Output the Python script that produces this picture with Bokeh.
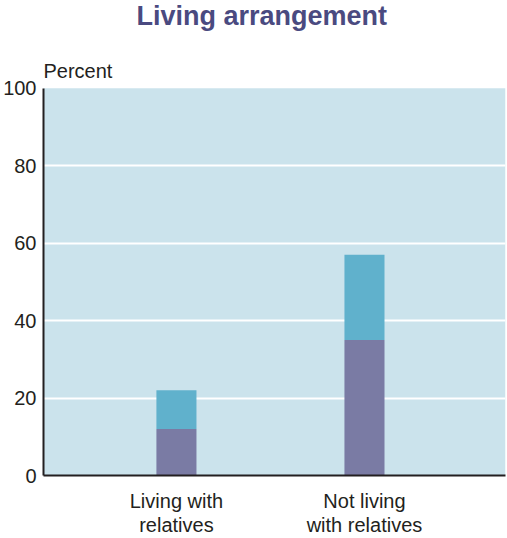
from bokeh.plotting import figure
from bokeh.models import ColumnDataSource, Range1d, FixedTicker, BoxAnnotation
from bokeh.core.properties import value
from bokeh.embed import file_html
from bokeh.resources import INLINE

# data
categories = ["Living with\nrelatives", "Not living\nwith relatives"]
lower_part = [12, 35]
upper_part = [10, 22]   # stacked on top: totals 22 and 57
y_ticks = [0, 20, 40, 60, 80, 100]
y_max = 100

positions = list(range(len(categories)))
source = ColumnDataSource(data=dict(pos=positions, lower=lower_part, upper=upper_part))

# the frame reaches up to the title so that the "Percent" label can sit above 100
p = figure(title="Living arrangement",
           x_range=Range1d(-0.707, 1.75), y_range=Range1d(0, 114.4),
           width=507, height=538,
           output_backend="svg", toolbar_location=None,
           min_border_left=43, min_border_right=2,
           min_border_top=31, min_border_bottom=63)

p.background_fill_color = "white"
p.border_fill_color = "white"
p.outline_line_color = None

# light blue panel covering 0-100 only
panel = BoxAnnotation(bottom=0, top=y_max, fill_color="#cbe3ec", fill_alpha=1,
                      line_color=None, level="image")
p.add_layout(panel)

# stacked bars
p.vbar_stack(["lower", "upper"], x="pos", width=0.213, source=source,
             color=["#7a7ba4", "#60b1cc"], line_color=None)

# grid: white horizontal lines only
p.xgrid.grid_line_color = None
p.ygrid.ticker = FixedTicker(ticks=[20, 40, 60, 80])
p.ygrid.grid_line_color = "white"
p.ygrid.grid_line_width = 2

# y axis, its line stops at 100
p.yaxis.ticker = FixedTicker(ticks=y_ticks)
p.yaxis.bounds = (0, y_max)
p.yaxis.major_tick_in = 0
p.yaxis.major_tick_out = 0
p.yaxis.minor_tick_line_color = None
p.yaxis.axis_line_color = "#231f20"
p.yaxis.axis_line_width = 2
p.yaxis.major_label_standoff = 7
p.yaxis.major_label_text_font = "Liberation Sans"
p.yaxis.major_label_text_font_size = "20px"
p.yaxis.major_label_text_color = "#231f20"

# x axis with the category names
p.xaxis.ticker = FixedTicker(ticks=positions)
p.xaxis.major_label_overrides = dict(zip(positions, categories))
p.xaxis.major_tick_in = 0
p.xaxis.major_tick_out = 0
p.xaxis.minor_tick_line_color = None
p.xaxis.axis_line_color = "#231f20"
p.xaxis.axis_line_width = 2
p.xaxis.major_label_standoff = 14
p.xaxis.major_label_text_font = "Liberation Sans"
p.xaxis.major_label_text_font_size = "20px"
p.xaxis.major_label_text_line_height = 1.1
p.xaxis.major_label_text_color = "#231f20"
p.xaxis.major_label_orientation = "horizontal"

# unit label at the top left corner of the panel
p.text(x=[p.x_range.start], y=[y_max], text=["Percent"], y_offset=-17,
       text_align="left", text_baseline="alphabetic",
       text_font=value("Liberation Sans"), text_font_size="20px", text_color="#231f20")

# title
p.title.align = "left"
p.title.offset = 93
p.title.standoff = 0
p.title.vertical_align = "top"
p.title.text_font = "Liberation Sans"
p.title.text_font_style = "bold"
p.title.text_font_size = "27px"
p.title.text_color = "#4a4a80"

open("out.html", "w").write(file_html(p, INLINE))
